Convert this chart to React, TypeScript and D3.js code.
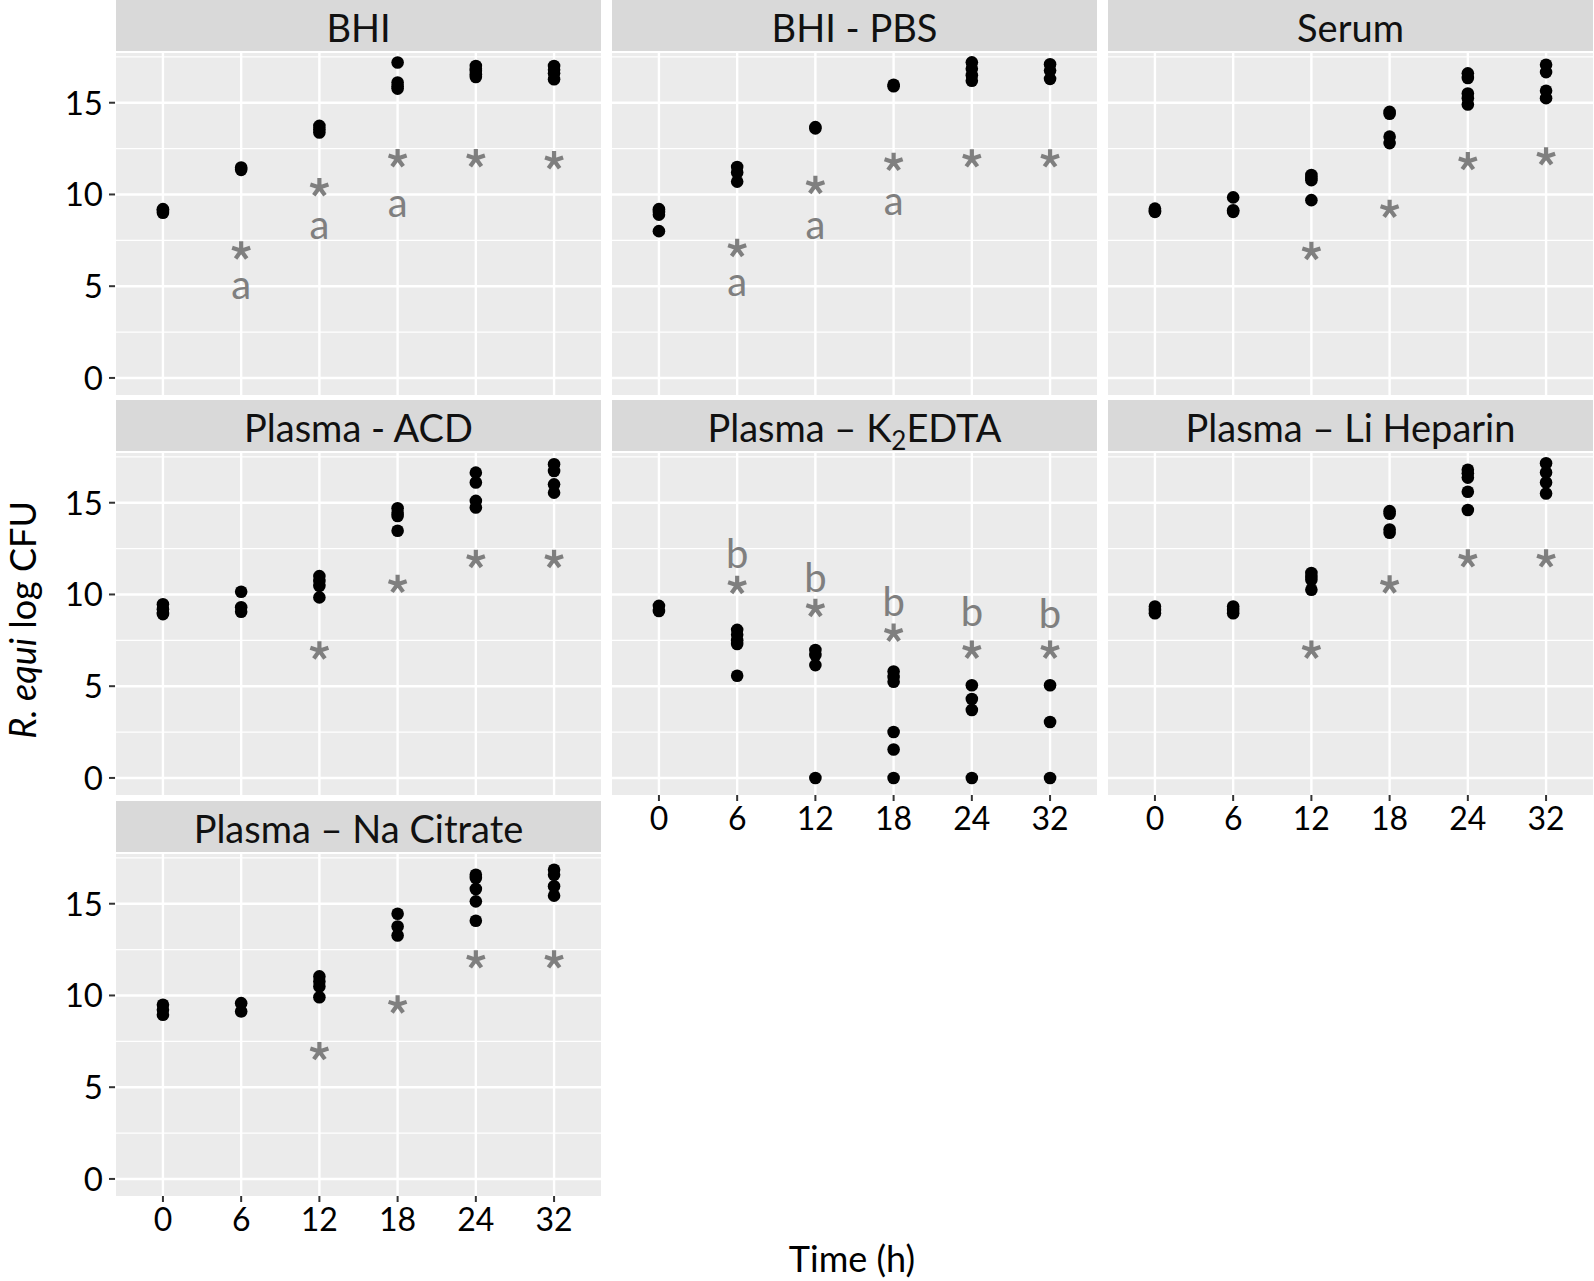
import React from "react";
import * as d3 from "d3";

// x categories (sampling time, h) and y axis ticks
const times = ["0", "6", "12", "18", "24", "32"];
const yTicks = [0, 5, 10, 15];
const yMinor = [2.5, 7.5, 12.5, 17.5];

// log CFU per time point, one list per medium
const bhi = [
  [9.2, 9.1, 9.0],
  [11.47, 11.34],
  [13.74, 13.55, 13.38],
  [17.19, 16.1, 15.9, 15.77],
  [17.0, 16.85, 16.73, 16.55, 16.4],
  [17.0, 16.8, 16.6, 16.28],
];
const bhiPbs = [
  [9.2, 9.05, 8.9, 8.0],
  [11.5, 11.2, 10.7],
  [13.67, 13.6],
  [15.98, 15.9],
  [17.2, 16.85, 16.5, 16.2],
  [17.1, 16.75, 16.3],
];
const serum = [
  [9.23, 9.1, 9.05],
  [9.84, 9.14, 9.05],
  [11.06, 10.9, 10.78, 9.69],
  [14.5, 14.4, 13.15, 12.8],
  [16.6, 16.35, 15.5, 15.25, 14.9],
  [17.07, 16.67, 15.65, 15.25],
];
const plasmaAcd = [
  [9.47, 9.2, 9.0, 8.93],
  [10.15, 9.3, 9.06],
  [11.0, 10.74, 10.47, 9.84],
  [14.7, 14.46, 14.28, 13.47],
  [16.64, 16.1, 15.1, 14.74],
  [17.1, 16.73, 16.0, 15.55],
];
const plasmaEdta = [
  [9.38, 9.1],
  [8.07, 7.8, 7.5, 7.3, 5.57],
  [6.97, 6.7, 6.15, 0],
  [5.8, 5.5, 5.24, 2.5, 1.55, 0],
  [5.05, 4.3, 3.7, 0],
  [5.05, 3.05, 0],
];
const plasmaHeparin = [
  [9.34, 9.15, 8.98],
  [9.34, 9.15, 8.98],
  [11.17, 10.95, 10.8, 10.26],
  [14.54, 14.4, 13.54, 13.36],
  [16.8, 16.6, 16.37, 15.6, 14.6],
  [17.15, 16.65, 16.1, 15.5],
];
const plasmaCitrate = [
  [9.49, 9.22, 8.95],
  [9.58, 9.13],
  [11.04, 10.76, 10.49, 9.9],
  [14.45, 13.76, 13.27],
  [16.58, 16.4, 15.8, 15.13, 14.07],
  [16.85, 16.58, 15.95, 15.44],
];

// significance marks: asterisk height and letter baseline per time (null = none)
const bhiStar = [null, 6.93, 10.38, 11.96, 11.96, 11.85];
const bhiLetter = [null, 4.3, 7.57, 8.75, null, null];
const bhiPbsStar = [null, 7.07, 10.5, 11.76, 11.95, 11.95];
const bhiPbsLetter = [null, 4.49, 7.58, 8.89, null, null];
const serumStar = [null, null, 6.9, 9.2, 11.8, 12.06];
const acdStar = [null, null, 6.93, 10.56, 11.92, 11.92];
const edtaStar = [null, 10.5, 9.25, 7.9, 6.97, 6.97];
const edtaLetter = [null, 11.44, 10.13, 8.83, 8.3, 8.19];
const heparinStar = [null, null, 6.97, 10.53, 11.95, 11.95];
const citrateStar = [null, null, 6.95, 9.49, 11.95, 11.95];

const panels = [
  { title: "BHI", pts: bhi, star: bhiStar, letter: bhiLetter, mark: "a", col: 0, row: 0 },
  { title: "BHI - PBS", pts: bhiPbs, star: bhiPbsStar, letter: bhiPbsLetter, mark: "a", col: 1, row: 0 },
  { title: "Serum", pts: serum, star: serumStar, letter: null, mark: "", col: 2, row: 0 },
  { title: "Plasma - ACD", pts: plasmaAcd, star: acdStar, letter: null, mark: "", col: 0, row: 1 },
  { title: "EDTA", pts: plasmaEdta, star: edtaStar, letter: edtaLetter, mark: "b", col: 1, row: 1, xAxis: true },
  { title: "Plasma \u2013 Li Heparin", pts: plasmaHeparin, star: heparinStar, letter: null, mark: "", col: 2, row: 1, xAxis: true },
  { title: "Plasma \u2013 Na Citrate", pts: plasmaCitrate, star: citrateStar, letter: null, mark: "", col: 0, row: 2, xAxis: true },
];

const width = 1594;
const height = 1281;
const colLeft = [116, 612, 1108];
const rowTop = [0, 400, 801];
const panelW = 485;
const stripH = 51;
const plotOff = 53;
const plotH = 342;
const font = "Lato, 'Open Sans', sans-serif";
const grey = "#7f7f7f";

const x = d3.scalePoint().domain(times).range([0, panelW]).padding(0.6);
const y = d3.scaleLinear().domain([-0.93, 17.71]).range([plotH, 0]);

// five-armed asterisk, like the one of the figure's font
const armLen = 9.5;
const starPath = d3.range(5).map((k) => {
  const a = -Math.PI / 2 + (k * 2 * Math.PI) / 5;
  return `M0,0L${(armLen * Math.cos(a)).toFixed(2)},${(armLen * Math.sin(a)).toFixed(2)}`;
}).join("");

const Panel = ({ p }) => {
  const left = colLeft[p.col];
  const top = rowTop[p.row];
  return (
    <g>
      <rect x={left} y={top} width={panelW} height={stripH} fill="#d9d9d9" />
      <text x={left + panelW / 2} y={top + 42} textAnchor="middle" fontSize={38} fontFamily={font} fill="#111">
        {p.title === "EDTA" ? (
          <>
            Plasma {"\u2013"} K<tspan fontSize={26} dy={8}>2</tspan>
            <tspan dy={-8}>EDTA</tspan>
          </>
        ) : (
          p.title
        )}
      </text>
      <g transform={`translate(${left},${top + plotOff})`}>
        <rect width={panelW} height={plotH} fill="#ebebeb" />
        {yMinor.map((v) => (
          <line key={"m" + v} x1={0} x2={panelW} y1={y(v)} y2={y(v)} stroke="#fff" strokeWidth={1.2} />
        ))}
        {yTicks.map((v) => (
          <line key={"g" + v} x1={0} x2={panelW} y1={y(v)} y2={y(v)} stroke="#fff" strokeWidth={2.4} />
        ))}
        {times.map((t) => (
          <line key={"v" + t} x1={x(t)} x2={x(t)} y1={0} y2={plotH} stroke="#fff" strokeWidth={2.4} />
        ))}
        {p.pts.map((vals, i) =>
          vals.map((v, j) => <circle key={i + "-" + j} cx={x(times[i])} cy={y(v)} r={6.3} fill="#000" />)
        )}
        {p.star.map((v, i) =>
          v == null ? null : (
            <path
              key={"s" + i}
              transform={`translate(${x(times[i])},${y(v)})`}
              d={starPath}
              stroke={grey}
              strokeWidth={4.2}
              fill="none"
            />
          )
        )}
        {p.letter &&
          p.letter.map((v, i) =>
            v == null ? null : (
              <text key={"l" + i} x={x(times[i])} y={y(v)} textAnchor="middle" fontSize={40} fontFamily={font} fill={grey}>
                {p.mark}
              </text>
            )
          )}
        {p.col === 0 &&
          yTicks.map((v) => (
            <g key={"yt" + v}>
              <line x1={-7} x2={-1} y1={y(v)} y2={y(v)} stroke="#333" strokeWidth={2} />
              <text x={-13} y={y(v) + 12} textAnchor="end" fontSize={33} fontFamily={font} fill="#000">
                {v}
              </text>
            </g>
          ))}
        {p.xAxis &&
          times.map((t) => (
            <g key={"xt" + t}>
              <line x1={x(t)} x2={x(t)} y1={plotH} y2={plotH + 6} stroke="#333" strokeWidth={2} />
              <text x={x(t)} y={plotH + 35} textAnchor="middle" fontSize={32} fontFamily={font} fill="#000">
                {t}
              </text>
            </g>
          ))}
      </g>
    </g>
  );
};

export default function App() {
  return (
    <svg
      width={width}
      height={height}
      style={{ position: "absolute", left: 0, top: 0, background: "#fff" }}
    >
      {panels.map((p) => (
        <Panel key={p.title} p={p} />
      ))}
      <text x={852} y={1272} textAnchor="middle" fontSize={36} fontFamily={font} fill="#000">
        Time (h)
      </text>
      <text transform="translate(36,620) rotate(-90)" textAnchor="middle" fontSize={36} fontFamily={font} fill="#000">
        <tspan fontStyle="italic">R. equi</tspan> log CFU
      </text>
    </svg>
  );
}
